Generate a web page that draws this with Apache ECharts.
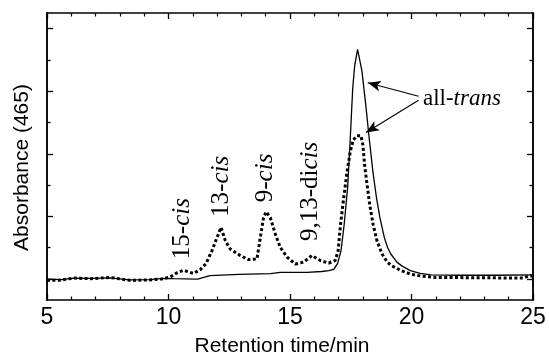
<!DOCTYPE html>
<html>
<head>
<meta charset="utf-8">
<script src="https://cdn.jsdelivr.net/npm/echarts@6/dist/echarts.min.js"></script>
<style>
html, body { margin: 0; padding: 0; background: #fff; }
#chart { width: 549px; height: 362px; }
</style>
</head>
<body>
<div id="chart"></div>
<script>
// retention time (min) / absorbance
var solidTrace = [
    [5.0, 0.0], [5.6, -0.02], [6.1, 0.03], [6.8, 0.02], [7.6, 0.04], [8.4, -0.03],
    [9.2, -0.02], [9.8, 0.02], [10.2, 0.01], [11.2, 0.0], [11.7, 0.11], [12.9, 0.15],
    [14.2, 0.17], [14.6, 0.21], [15.7, 0.21], [16.3, 0.24], [16.6, 0.27], [16.8, 0.31],
    [16.96, 0.5], [17.1, 0.91], [17.23, 1.75], [17.37, 2.91], [17.48, 4.49], [17.58, 6.08],
    [17.66, 6.8], [17.78, 7.34], [17.96, 6.65], [18.12, 5.55], [18.26, 4.49], [18.41, 3.44],
    [18.56, 2.59], [18.7, 1.96], [18.88, 1.33], [19.02, 1.0], [19.15, 0.8], [19.4, 0.54],
    [19.6, 0.42], [19.95, 0.27], [20.36, 0.18], [20.8, 0.13], [22.0, 0.12], [23.5, 0.12],
    [25.0, 0.13]
];
var dottedTrace = [
    [5.0, -0.04], [5.5, -0.04], [6.1, 0.03], [6.8, 0.01], [7.6, 0.05], [8.4, -0.04],
    [9.2, -0.03], [9.7, 0.0], [10.07, 0.06], [10.35, 0.2], [10.62, 0.28], [11.03, 0.18],
    [11.31, 0.3], [11.55, 0.5], [11.79, 0.91], [12.0, 1.33], [12.16, 1.65], [12.34, 1.22],
    [12.54, 0.96], [12.95, 0.75], [13.3, 0.62], [13.64, 0.64], [13.78, 1.33], [13.91, 1.96],
    [14.02, 2.15], [14.19, 1.96], [14.4, 1.43], [14.6, 1.01], [14.88, 0.7], [15.22, 0.48],
    [15.56, 0.54], [15.9, 0.75], [16.25, 0.59], [16.59, 0.51], [16.86, 0.59], [16.98, 0.9],
    [17.08, 1.75], [17.21, 2.59], [17.35, 3.44], [17.48, 4.07], [17.6, 4.44], [17.76, 4.58],
    [17.92, 4.58], [18.0, 4.28], [18.07, 3.65], [18.17, 3.02], [18.28, 2.38], [18.42, 1.75],
    [18.58, 1.22], [18.79, 0.8], [19.0, 0.54], [19.2, 0.42], [19.54, 0.28], [19.95, 0.16],
    [20.36, 0.1], [21.0, 0.05], [23.0, 0.04], [24.6, 0.03], [24.8, 0.09], [25.0, 0.1]
];
var xTickStep = 5;
var yMajorTicks = [0, 2, 4, 6, 8];
var yMinorTicks = [1, 3, 5, 7];
var peakNames = ['15-', '13-', '9-', '9,13-di'];
var peakItalic = 'cis';
var mainName = ['all-', 'trans'];

var SANS = 'Liberation Sans, Arial, sans-serif';
var SERIF = 'Liberation Serif, Times New Roman, serif';
var lineCol = '#000';

// where the annotations sit, in data units
var peakLabelAt = [[10.59, 1.61], [12.17, 2.96], [13.98, 3.23], [15.84, 2.8]];
var mainLabelAt = [20.47, 5.76];
var arrows = [
    [[20.29, 5.84], [18.2, 6.27]],
    [[20.29, 5.71], [18.13, 4.68]]
];

function xAx(pos, withLabels) {
    var ax = {
        type: 'value', min: 5, max: 25, interval: xTickStep, position: pos,
        axisLine: { show: true, onZero: false, lineStyle: { color: lineCol, width: 1.5 } },
        axisTick: { show: true, inside: true, length: 6, lineStyle: { color: lineCol, width: 1.3 } },
        minorTick: { show: true, splitNumber: 5, length: 3.5, lineStyle: { color: lineCol, width: 1.2 } },
        axisLabel: { show: withLabels, color: '#000', fontFamily: SANS, fontSize: 23, margin: 6,
            showMinLabel: true, showMaxLabel: true },
        splitLine: { show: false }
    };
    if (withLabels) {
        ax.name = 'Retention time/min';
        ax.nameLocation = 'middle';
        ax.nameGap = 36;
        ax.nameTextStyle = { color: '#000', fontFamily: SANS, fontSize: 21, padding: [0, 16, 0, 0] };
    }
    return ax;
}

function yAx(pos, vals, len, withName) {
    var ax = {
        type: 'value', min: -0.67, max: 8.5, position: pos,
        axisLine: { show: true, onZero: false, lineStyle: { color: lineCol, width: 1.5 } },
        axisTick: { show: true, inside: true, length: len, customValues: vals,
            lineStyle: { color: lineCol, width: 1.3 } },
        axisLabel: { show: false },
        splitLine: { show: false }
    };
    if (withName) {
        ax.name = 'Absorbance (465)';
        ax.nameLocation = 'middle';
        ax.nameGap = 14;
        ax.nameTextStyle = { color: '#000', fontFamily: SANS, fontSize: 21, padding: [0, 22, 0, 0] };
    }
    return ax;
}

var chart = echarts.init(document.getElementById('chart'), null, { renderer: 'canvas' });

chart.setOption({
    animation: false,
    backgroundColor: '#fff',
    grid: { left: 47, right: 16, top: 13, bottom: 59 },
    xAxis: [xAx('bottom', true), xAx('top', false)],
    yAxis: [
        yAx('left', yMajorTicks, 6, true),
        yAx('left', yMinorTicks, 3.5, false),
        yAx('right', yMajorTicks, 6, false),
        yAx('right', yMinorTicks, 3.5, false)
    ],
    series: [
        {
            type: 'line', data: dottedTrace, showSymbol: false, symbol: 'none',
            lineStyle: { color: lineCol, width: 3, type: [3, 2.4], cap: 'butt' },
            z: 2
        },
        {
            type: 'line', data: solidTrace, showSymbol: false, symbol: 'none',
            lineStyle: { color: lineCol, width: 1.3 },
            z: 3,
            markLine: {
                silent: true,
                symbol: ['none', 'arrow'],
                symbolSize: [8, 13],
                label: { show: false },
                lineStyle: { color: lineCol, width: 1.1, type: 'solid' },
                data: arrows.map(function (a) {
                    return [{ coord: a[0] }, { coord: a[1] }];
                })
            }
        }
    ]
});

var graphics = peakNames.map(function (n, i) {
    var p = chart.convertToPixel({ xAxisIndex: 0, yAxisIndex: 0 }, peakLabelAt[i]);
    return {
        type: 'text', x: p[0], y: p[1], rotation: Math.PI / 2, z: 10,
        style: {
            text: '{a|' + n + '}{b|' + peakItalic + '}',
            align: 'center', verticalAlign: 'middle',
            rich: {
                a: { fontFamily: SERIF, fontSize: 25, fill: '#000' },
                b: { fontFamily: SERIF, fontSize: 25, fontStyle: 'italic', fill: '#000' }
            }
        }
    };
});
var mp = chart.convertToPixel({ xAxisIndex: 0, yAxisIndex: 0 }, mainLabelAt);
graphics.push({
    type: 'text', x: mp[0], y: mp[1], z: 10,
    style: {
        text: '{a|' + mainName[0] + '}{b|' + mainName[1] + '}',
        align: 'left', verticalAlign: 'middle',
        rich: {
            a: { fontFamily: SERIF, fontSize: 23, fill: '#000' },
            b: { fontFamily: SERIF, fontSize: 23, fontStyle: 'italic', fill: '#000' }
        }
    }
});
chart.setOption({ graphic: graphics });

window.onresize = function () {
    setTimeout(function () {
        chart.resize();
    }, 200);
};
</script>
</body>
</html>
